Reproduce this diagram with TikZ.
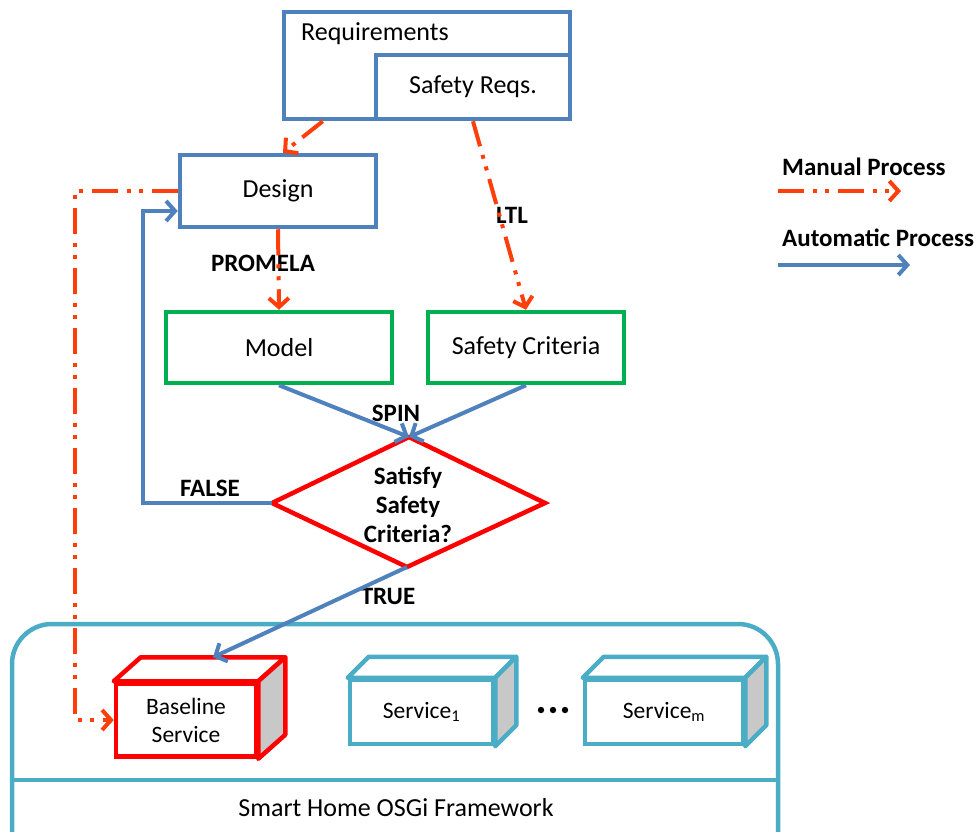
\documentclass[tikz,border=0pt]{standalone}
\usepackage{fontspec}
\setmainfont{Carlito}
\usetikzlibrary{arrows.meta,calc}
\definecolor{oblue}{RGB}{79,129,189}
\definecolor{ogreen}{RGB}{0,176,80}
\definecolor{mred}{RGB}{255,62,10}
\definecolor{dred}{RGB}{255,0,0}
\definecolor{teal}{RGB}{75,172,198}
\definecolor{sidegray}{RGB}{200,200,200}
\tikzset{
  box/.style={draw=oblue, line width=4.5pt, fill=white, inner sep=0pt,
    font=\fontsize{26}{30}\selectfont},
  gbox/.style={box, draw=ogreen},
  front/.style={line width=4.5pt, fill=white, inner sep=0pt, align=center},
  manual/.style={draw=mred, line width=4pt,
    dash pattern=on 26pt off 9pt on 4pt off 8pt on 4pt off 9pt,
    -{Straight Barb[length=9pt,width=20pt,line width=4pt]}},
  autoarrow/.style={draw=oblue, line width=4pt,
    -{Straight Barb[length=9pt,width=20pt,line width=4pt]}},
  lbl/.style={font=\bfseries\fontsize{25}{29}\selectfont, inner sep=0pt},
  txt/.style={font=\fontsize{26}{30}\selectfont, inner sep=0pt}
}
\newcommand{\cubefaces}[4]{% node, dx, dy, color
  \draw[line width=4.5pt, draw=#4, fill=white, line join=round]
    (#1.north west) -- ++(#2,-#3) -- ($(#1.north east)+(#2,-#3)$) -- (#1.north east) -- cycle;
  \draw[line width=4.5pt, draw=#4, fill=sidegray, line join=round]
    (#1.north east) -- ++(#2,-#3) -- ($(#1.south east)+(#2,-#3)$) -- (#1.south east) -- cycle;
}
\begin{document}
\begin{tikzpicture}[x=1pt,y=-1pt]
\useasboundingbox (0,0) rectangle (978,831);

% Requirements
\node[box, minimum width=286pt, minimum height=107pt] (req) at (427,65.5) {};
\node[txt, anchor=west] (reqtext) at (301,34) {Requirements};
\node[box, minimum width=194pt, minimum height=64pt] (sreq) at (473,87) {Safety Reqs.};

% Design
\node[box, minimum width=196pt, minimum height=72pt] (design) at (278,191) {Design};

% Model and Safety Criteria
\node[gbox, minimum width=226pt, minimum height=71pt] (model) at (279,347.5) {Model};
\node[gbox, minimum width=196pt, minimum height=71pt] (crit) at (526,347.5) {Safety Criteria};

% Diamond
\coordinate (dtop) at (409,437);
\coordinate (dleft) at (272,503);
\coordinate (dright) at (545,503);
\coordinate (dbot) at (407,567);
\draw[draw=dred, line width=4.5pt, fill=white, line join=miter]
  (dtop) -- (dright) -- (dbot) -- (dleft) -- cycle;
\node[align=center, font=\bfseries\fontsize{25}{29}\selectfont, inner sep=0pt] (dtext) at (408,505)
  {Satisfy\\Safety\\Criteria?};

% Framework
\draw[draw=teal, line width=4.5pt, rounded corners=40pt]
  (12,833) -- (12,624) -- (778,624) -- (778,833);
\draw[draw=teal, line width=4.5pt] (12,780) -- (778,780);
\node[font=\fontsize{26}{30}\selectfont, inner sep=0pt] (fw) at (396,808) {Smart Home OSGi Framework};

% Services (front faces)
\node[front, draw=dred, minimum width=140pt, minimum height=73pt,
  font=\fontsize{23.5}{28}\selectfont] (base) at (186,720) {Baseline\\Service};
\cubefaces{base}{27}{24}{dred}
\node[front, draw=teal, minimum width=143pt, minimum height=64pt,
  font=\fontsize{23.5}{28}\selectfont] (s1) at (421.5,712) {Service\textsubscript{1}};
\cubefaces{s1}{21}{21}{teal}
\node[front, draw=teal, minimum width=158pt, minimum height=64pt,
  font=\fontsize{23.5}{28}\selectfont] (sm) at (664,712) {Service\textsubscript{m}};
\cubefaces{sm}{21}{21}{teal}
\foreach \xx in {541,553,565} \fill (\xx,710) circle (3.2pt);

% Labels (drawn below the connectors)
\node[lbl] (lpromela) at (263,263) {PROMELA};
\node[lbl] (lltl) at (512,215) {LTL};
\node[lbl] (lspin) at (396,413) {SPIN};
\node[lbl] (lfalse) at (210,488) {FALSE};
\node[lbl] (ltrue) at (388,596) {TRUE};

% Manual arrows
\draw[manual] ($(req.south west)+(41,0)$) -- ($(design.north)+(5,0)$);
\draw[manual] (sreq.south) -- (crit.north);
\draw[manual] (design.south) -- (model.north);
\draw[manual] (design.west) -- (75,191) |- (base.west);

% Automatic arrows
\draw[autoarrow] (model.south) -- (dtop);
\draw[autoarrow] (crit.south) -- (dtop);
\draw[autoarrow] (dleft) -- (143,503) |- ($(design.west)+(0,20)$);
\draw[autoarrow] (dbot) -- ($(base.north)+(27,-24)$);

% Legend
\node[lbl, anchor=west] (lman) at (782,167) {Manual Process};
\node[lbl, anchor=west] (lauto) at (782,238) {Automatic Process};
\coordinate (m1) at (778,191);
\coordinate (m2) at (901,191);
\coordinate (a1) at (778,265);
\coordinate (a2) at (910,265);
\draw[manual] (m1) -- (m2);
\draw[autoarrow] (a1) -- (a2);
\end{tikzpicture}
\end{document}
